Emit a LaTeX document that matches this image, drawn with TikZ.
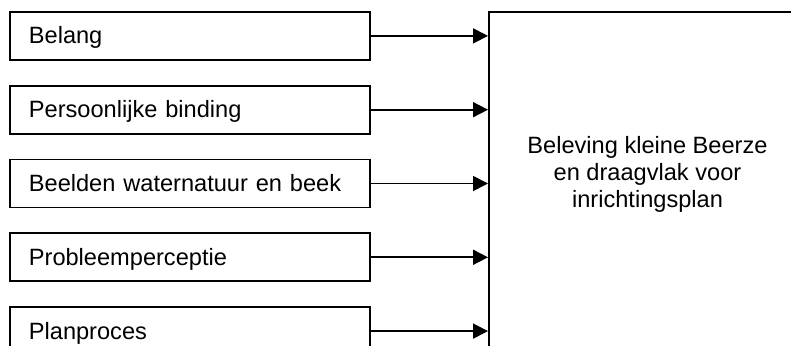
\documentclass[tikz,border=0pt]{standalone}
\usepackage{fontspec}
\setmainfont{Liberation Sans}
\usetikzlibrary{arrows.meta,positioning}

\begin{document}
\begin{tikzpicture}[x=0.5pt,y=-0.5pt,>={Triangle[length=7.5pt,width=7.5pt]},
  font=\fontsize{11.8}{13.6}\selectfont,line width=0.9pt,
  factor/.style={draw,text width=161pt,inner xsep=9.5pt,minimum height=24pt,
    text height=11pt,text depth=3pt,align=left}]
\useasboundingbox (0,0) rectangle (791,346);
\clip (0,0) rectangle (791,346);
\node[factor,anchor=north west] (belang) at (9,11) {Belang};
\node[factor,below=12pt of belang] (binding) {Persoonlijke binding};
\node[factor,below=12pt of binding] (beelden) {Beelden waternatuur en beek};
\node[factor,below=12pt of beelden] (probleem) {Probleemperceptie};
\node[factor,below=12pt of probleem] (proces) {Planproces};
\node[draw,anchor=north west,minimum width=159.5pt,minimum height=180pt] (beleving) at (488,11) {};
\node[align=center] (belevingtekst) at (647.5,174.5)
  {Beleving kleine Beerze\\en draagvlak voor\\inrichtingsplan};
\foreach \f in {belang,binding,beelden,probleem,proces}
  \draw[->] (\f.east) -- (\f.east -| beleving.west);
\end{tikzpicture}
\end{document}
